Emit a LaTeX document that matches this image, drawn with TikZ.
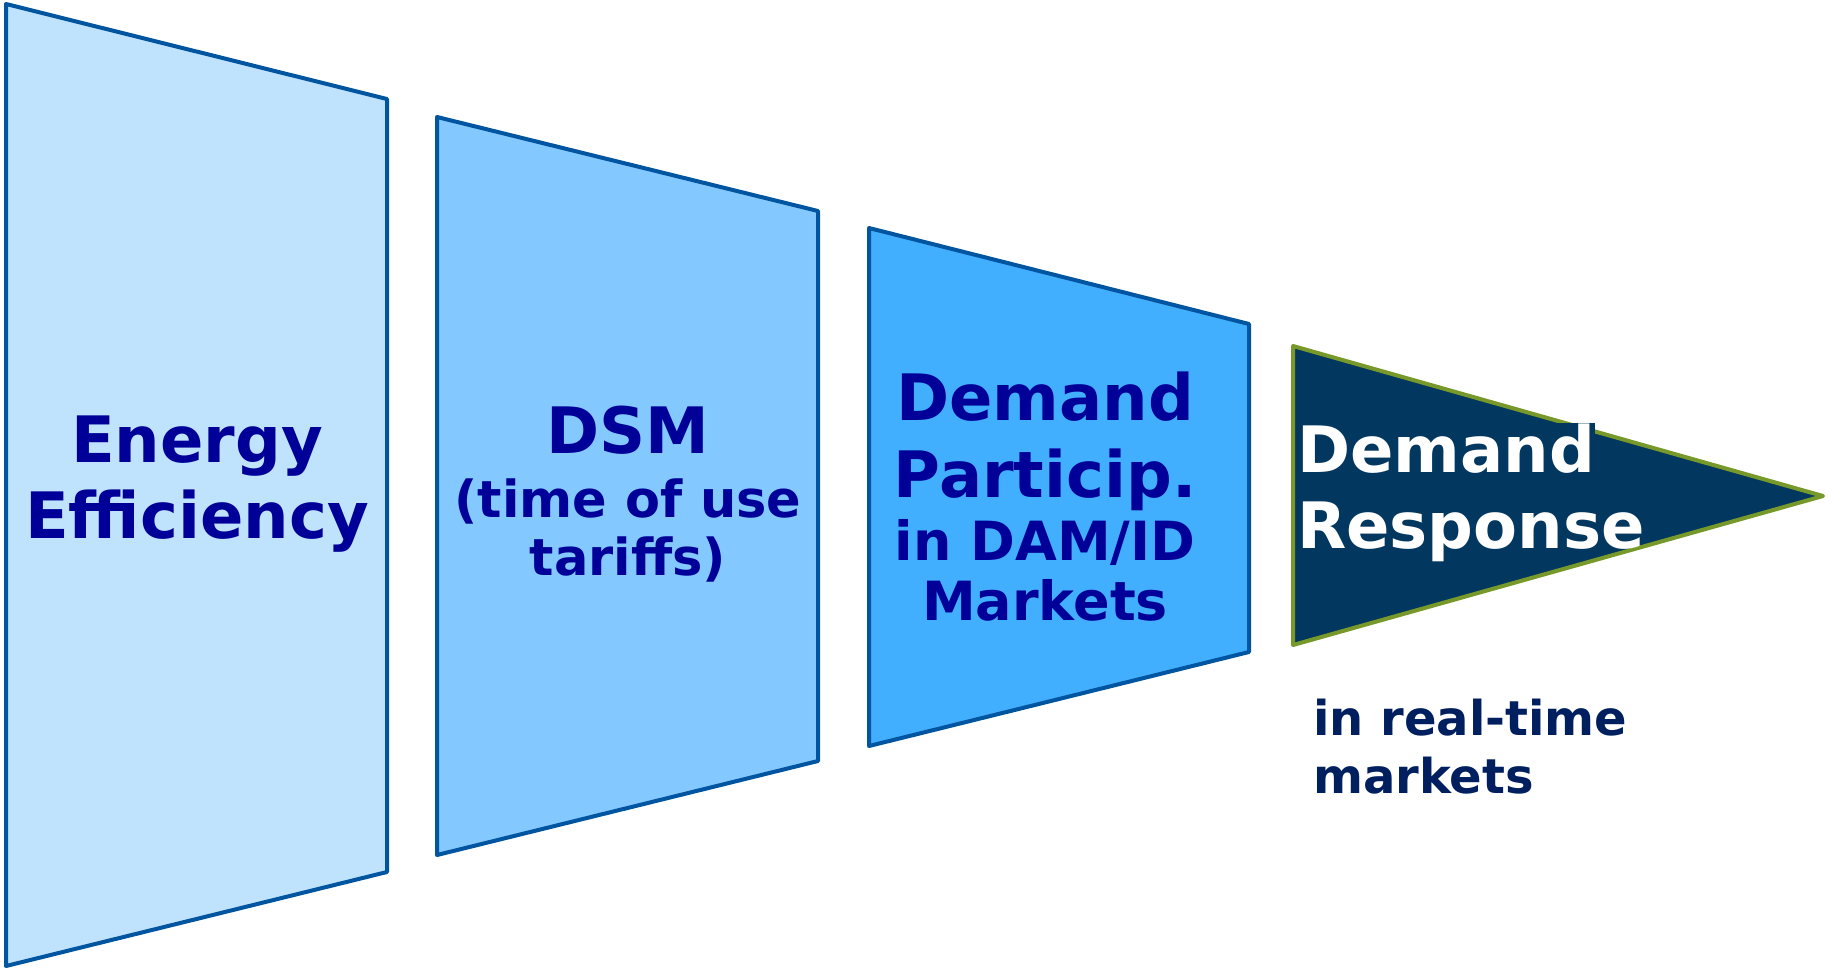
\documentclass[tikz,border=0pt]{standalone}
\usepackage{fontspec}
\setmainfont{DejaVu Sans}
\definecolor{edgeblue}{RGB}{0,85,160}
\definecolor{fillA}{RGB}{191,227,253}
\definecolor{fillB}{RGB}{131,200,254}
\definecolor{fillC}{RGB}{66,175,254}
\definecolor{trifill}{RGB}{2,55,96}
\definecolor{triedge}{RGB}{119,153,42}
\definecolor{txtblue}{RGB}{0,0,153}
\definecolor{txtnavy}{RGB}{0,31,95}
\tikzset{
  panel/.style={draw=edgeblue, line width=4pt, line join=round},
  lbl/.style={anchor=base, inner sep=0pt, text=txtblue, font=\bfseries},
  big/.style={font=\bfseries\fontsize{64}{64}\selectfont},
  mid/.style={font=\bfseries\fontsize{51}{51}\selectfont},
  midB/.style={font=\bfseries\fontsize{54}{54}\selectfont},
  note/.style={anchor=base west, inner sep=0pt, text=txtnavy, font=\bfseries\fontsize{48}{48}\selectfont},
}
\begin{document}
\begin{tikzpicture}[x=1pt,y=-1pt]
\useasboundingbox (0,0) rectangle (1827,969);
% panels
\draw[panel, fill=fillA] (6,4) -- (387,99) -- (387,872) -- (6,966) -- cycle;
\draw[panel, fill=fillB] (437,117) -- (818,211) -- (818,761) -- (437,855) -- cycle;
\draw[panel, fill=fillC] (869,228) -- (1249,324) -- (1249,652) -- (869,746) -- cycle;
\draw[draw=triedge, fill=trifill, line width=4pt, line join=round] (1293,346) -- (1823,496) -- (1293,645) -- cycle;
% texts panel 1
\node[lbl, big] (e1) at (197,462) {Energy};
\node[lbl, big] (e2) at (197,538) {Efficiency};
% panel 2
\node[lbl, big] (d1) at (628,453) {DSM};
\node[lbl, mid] (d2) at (628,517) {(time of use};
\node[lbl, mid] (d3) at (628,575) {tariffs)};
% panel 3
\node[lbl, big] (p1) at (1045,420) {Demand};
\node[lbl, big] (p2) at (1045,497) {Particip.};
\node[lbl, midB] (p3) at (1045,560) {in DAM/ID};
\node[lbl, midB] (p4) at (1045,620) {Markets};
% triangle
\node[anchor=base west, inner sep=0pt, fill=trifill, text=white, big] (r1) at (1297,472) {Demand};
\node[anchor=base west, inner sep=0pt, text=white, big] (r2) at (1297,548) {Response};
% below
\node[note] (m1) at (1313,735) {in real-time};
\node[note] (m2) at (1313,793) {markets};
\end{tikzpicture}
\end{document}
